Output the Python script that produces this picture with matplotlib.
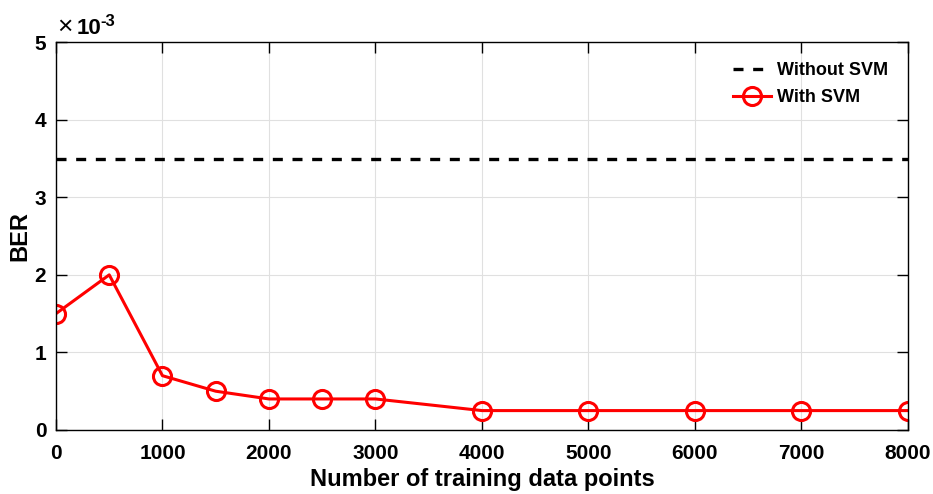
import matplotlib
matplotlib.use("Agg")
import matplotlib.pyplot as plt
from matplotlib.ticker import FuncFormatter
from matplotlib.transforms import offset_copy

plt.rcParams['font.family'] = ['Liberation Sans', 'DejaVu Sans']
plt.rcParams['font.weight'] = 'bold'

x_svm = [0, 500, 1000, 1500, 2000, 2500, 3000, 4000, 5000, 6000, 7000, 8000]
ber_svm = [1.5e-3, 2.0e-3, 0.7e-3, 0.5e-3, 0.4e-3, 0.4e-3, 0.4e-3, 0.25e-3, 0.25e-3, 0.25e-3, 0.25e-3, 0.25e-3]
x_nosvm = [0, 8000]
ber_nosvm = [3.5e-3, 3.5e-3]
xticks = [0, 1000, 2000, 3000, 4000, 5000, 6000, 7000, 8000]
yticks = [0, 1e-3, 2e-3, 3e-3, 4e-3, 5e-3]

fig = plt.figure(figsize=(9.33, 4.94), dpi=100)
ax = fig.add_axes([0.060, 0.1296, 0.913, 0.785])

ax.plot(x_nosvm, ber_nosvm, 'k--', lw=2.4, dashes=(3, 2.9), label='Without SVM')
ax.plot(x_svm, ber_svm, '-o', color='red', lw=2.2, ms=13, mfc='none', mew=2.2, label='With SVM')

ax.set_xlim(0, 8000)
ax.set_ylim(0, 5e-3)
ax.set_xticks(xticks)
ax.set_yticks(yticks)
ax.yaxis.set_major_formatter(FuncFormatter(lambda v, p: f"{v*1e3:g}"))
ax.grid(True, color='#e0e0e0', lw=0.8)
ax.tick_params(direction='in', length=8, width=1, top=True, right=True, labelsize=15)
ax.tick_params(axis='x', pad=10)
ax.tick_params(axis='y', pad=7)
for s in ax.spines.values():
    s.set_linewidth(1)

# offset label  x10^-3
ax.text(0.0, 1.008, '\u00d7', transform=offset_copy(ax.transAxes, fig=fig, x=1, y=0, units='dots'),
        fontsize=19, fontweight='normal', va='bottom', ha='left')
ax.text(0.0, 1.008, '10', transform=offset_copy(ax.transAxes, fig=fig, x=21, y=0, units='dots'),
        fontsize=16, fontweight='bold', va='bottom', ha='left')
ax.text(0.0, 1.008, '-3', transform=offset_copy(ax.transAxes, fig=fig, x=44, y=10, units='dots'),
        fontsize=12, fontweight='bold', va='bottom', ha='left')

ax.set_xlabel('Number of training data points', fontsize=17, fontweight='bold', labelpad=4)
ax.set_ylabel('BER', fontsize=17, fontweight='bold', labelpad=2)

leg = ax.legend(loc='upper right', frameon=False, fontsize=13, handlelength=2.1, handletextpad=0.3,
                borderaxespad=0.7, labelspacing=0.55)

fig.savefig('out.png', dpi=100)
